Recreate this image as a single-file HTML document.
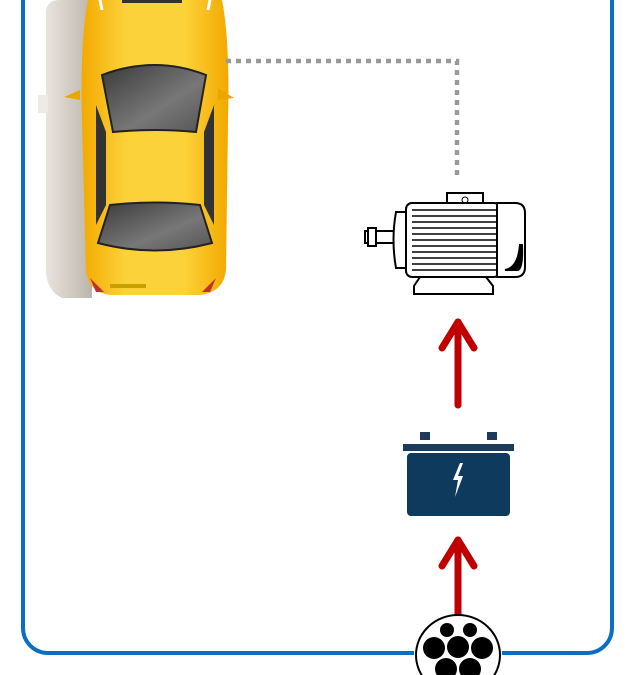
<!DOCTYPE html>
<html><head><style>
html,body{margin:0;padding:0;background:#fff;width:632px;height:675px;overflow:hidden}
</style></head><body>
<svg width="632" height="675" viewBox="0 0 632 675" xmlns="http://www.w3.org/2000/svg">
<defs>
<linearGradient id="cg" x1="0" x2="1"><stop offset="0" stop-color="#f2a900"/><stop offset="0.3" stop-color="#fcd23a"/><stop offset="0.7" stop-color="#fcd23a"/><stop offset="1" stop-color="#f2a900"/></linearGradient>
<linearGradient id="sg" x1="0" x2="1"><stop offset="0" stop-color="#e8e4de"/><stop offset="0.6" stop-color="#cfc8bf"/><stop offset="1" stop-color="#bdb5aa"/></linearGradient>
<linearGradient id="wg" x1="0" x2="1" y1="0" y2="1"><stop offset="0" stop-color="#3a3a3a"/><stop offset="0.6" stop-color="#777"/><stop offset="1" stop-color="#555"/></linearGradient>
</defs>
<!-- border -->
<path d="M23 0 V628 A25 25 0 0 0 48 653 H414 M502 653 H587 A25 25 0 0 0 612 628 V0" fill="none" stroke="#0a6fc2" stroke-width="4"/>
<!-- car shadow -->
<path d="M60 0 H92 V298 H62 Q46 290 46 270 V10 Q48 0 60 0 Z" fill="url(#sg)"/>
<rect x="38" y="95" width="10" height="18" fill="#eeebe6"/>
<!-- car body -->
<path d="M88 0 H222 Q230 40 228 120 L226 270 Q224 292 200 295 H110 Q88 292 86 270 L82 120 Q80 40 88 0 Z" fill="url(#cg)"/>
<path d="M100 0 L102 10 M210 0 L208 10" stroke="#fff" stroke-width="3"/>
<rect x="122" y="0" width="60" height="3" fill="#333"/>
<!-- mirrors -->
<path d="M80 90 L64 97 L80 100 Z" fill="#e8a800"/><path d="M218 88 L234 98 L218 100 Z" fill="#e8a800"/>
<!-- windshield -->
<path d="M102 75 Q155 55 206 75 L196 132 Q155 128 113 132 Z" fill="url(#wg)" stroke="#222" stroke-width="2"/>
<!-- side windows -->
<path d="M96 105 L106 132 L106 205 L96 225 Z" fill="#333"/><path d="M214 105 L204 132 L204 205 L214 225 Z" fill="#333"/>
<!-- rear window -->
<path d="M110 205 Q155 200 200 205 L212 243 Q155 258 98 243 Z" fill="url(#wg)" stroke="#222" stroke-width="2"/>
<rect x="110" y="284" width="36" height="4" fill="#c8a000"/>
<path d="M90 278 L96 292 L104 292 Z" fill="#c03030"/><path d="M216 278 L210 292 L202 292 Z" fill="#c03030"/>
<!-- dotted connector -->
<path d="M226 61 H457 V176" fill="none" stroke="#999" stroke-width="4.5" stroke-dasharray="5 5"/>
<!-- motor -->
<g stroke="#000" stroke-width="2" fill="#fff">
<rect x="447" y="193" width="36" height="13"/>
<circle cx="465" cy="200" r="3" fill="#fff" stroke-width="1"/>
<path d="M420 277 L414 286 V294 H493 V286 L486 277 Z"/>
<rect x="365" y="231" width="30" height="12"/>
<rect x="368" y="228" width="8" height="18"/>
<path d="M396 212 Q391 240 396 268 H410 V212 Z"/>
<rect x="406" y="203" width="94" height="74" rx="6"/>
<path d="M497 203 H515 Q525 203 525 213 V267 Q525 277 515 277 H497 Z"/>
<path d="M520 245 Q518 268 505 270 H518 Q523 268 522 245 Z" fill="#000"/>
</g>
<g stroke="#000" stroke-width="1.6">
<line x1="412" y1="210" x2="497" y2="210"/><line x1="412" y1="216" x2="497" y2="216"/><line x1="412" y1="222" x2="497" y2="222"/><line x1="412" y1="228" x2="497" y2="228"/><line x1="412" y1="234" x2="497" y2="234"/><line x1="412" y1="240" x2="497" y2="240"/><line x1="412" y1="246" x2="497" y2="246"/><line x1="412" y1="252" x2="497" y2="252"/><line x1="412" y1="258" x2="497" y2="258"/><line x1="412" y1="264" x2="497" y2="264"/><line x1="412" y1="270" x2="497" y2="270"/>
</g>
<!-- arrows -->
<g stroke="#c00000" stroke-width="7" fill="none" stroke-linecap="round" stroke-linejoin="round">
<line x1="458" y1="405" x2="458" y2="322"/><path d="M442 348 L458 322 L474 348"/>
<line x1="458" y1="614" x2="458" y2="540"/><path d="M442 566 L458 540 L474 566"/>
</g>
<!-- battery -->
<rect x="420" y="432" width="10" height="8" fill="#1e3a5a"/><rect x="487" y="432" width="10" height="8" fill="#1e3a5a"/>
<rect x="403" y="444" width="111" height="7" fill="#1e3a5a"/>
<rect x="407" y="453" width="103" height="63" rx="4" fill="#0e3a5e"/>
<path d="M460 463 L453 480 L458 480 L455 497 L463 476 L458 476 L463 463 Z" fill="#fff"/>
<!-- plug -->
<ellipse cx="458" cy="655" rx="42" ry="40" fill="#fff" stroke="#000" stroke-width="2"/>
<g fill="#000">
<circle cx="447" cy="630" r="7"/><circle cx="470" cy="630" r="7"/>
<circle cx="434" cy="648" r="11"/><circle cx="458" cy="647" r="11"/><circle cx="482" cy="648" r="11"/>
<circle cx="446" cy="669" r="11"/><circle cx="470" cy="669" r="11"/>
</g>
</svg>
</body></html>
